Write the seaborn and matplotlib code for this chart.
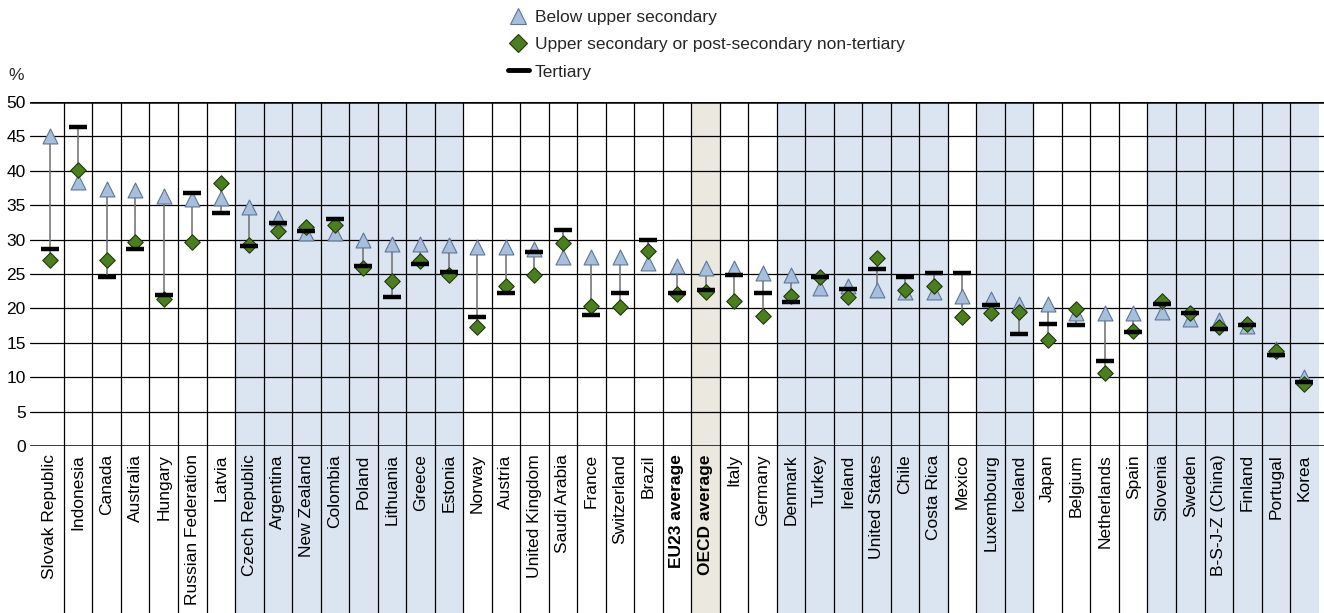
import matplotlib
matplotlib.use("Agg")
import matplotlib.pyplot as plt
from matplotlib.lines import Line2D
import pandas as pd
import seaborn as sns

# data (%)
countries = [
    "Slovak Republic", "Indonesia", "Canada", "Australia", "Hungary",
    "Russian Federation", "Latvia", "Czech Republic", "Argentina", "New Zealand",
    "Colombia", "Poland", "Lithuania", "Greece", "Estonia", "Norway", "Austria",
    "United Kingdom", "Saudi Arabia", "France", "Switzerland", "Brazil",
    "EU23 average", "OECD average", "Italy", "Germany", "Denmark", "Turkey",
    "Ireland", "United States", "Chile", "Costa Rica", "Mexico", "Luxembourg",
    "Iceland", "Japan", "Belgium", "Netherlands", "Spain", "Slovenia", "Sweden",
    "B-S-J-Z (China)", "Finland", "Portugal", "Korea",
]
below_upper = [
    45.0, 38.4, 37.3, 37.2, 36.3, 35.9, 36.0, 34.7, 33.1, 31.0,
    30.9, 29.9, 29.4, 29.4, 29.2, 28.9, 28.9, 28.7, 27.5, 27.4, 27.4, 26.6,
    26.2, 25.9, 25.8, 25.1, 24.8, 22.9, 23.2, 22.7, 22.4, 22.4, 21.8, 21.3,
    20.7, 20.6, 19.4, 19.4, 19.4, 19.5, 18.4, 18.3, 17.4, 14.1, 10.0,
]
upper_secondary = [
    27.0, 40.1, 27.0, 29.6, 21.3, 29.7, 38.2, 29.2, 31.2, 31.9,
    32.1, 25.8, 24.0, 26.9, 24.9, 17.3, 23.2, 24.9, 29.5, 20.3, 20.2, 28.4,
    22.1, 22.4, 21.1, 18.9, 21.8, 24.6, 21.7, 27.3, 22.7, 23.2, 18.7, 19.3,
    19.5, 15.4, 19.9, 10.6, 16.7, 21.1, 19.4, 17.3, 17.7, 13.8, 9.0,
]
tertiary = [
    28.7, 46.4, 24.6, 28.7, 22.0, 36.8, 33.8, 29.0, 32.4, 31.2,
    33.0, 26.1, 21.7, 26.5, 25.3, 18.8, 22.2, 28.2, 31.4, 19.1, 22.2, 29.9,
    22.3, 22.7, 24.9, 22.2, 21.0, 24.6, 22.8, 25.7, 24.5, 25.1, 25.1, 20.5,
    16.3, 17.8, 17.6, 12.4, 16.5, 20.7, 19.3, 17.0, 17.6, 13.2, 9.3,
]
blue_columns = [
    "Czech Republic", "Argentina", "New Zealand", "Colombia", "Poland",
    "Lithuania", "Greece", "Estonia", "Denmark", "Turkey", "Ireland",
    "United States", "Chile", "Costa Rica", "Luxembourg", "Iceland",
    "Slovenia", "Sweden", "B-S-J-Z (China)", "Finland", "Portugal", "Korea",
]
tan_columns = ["OECD average"]
bold_labels = ["EU23 average", "OECD average"]

df = pd.DataFrame({
    "country": countries,
    "pos": range(len(countries)),
    "below": below_upper,
    "upper": upper_secondary,
    "tertiary": tertiary,
})
df["lo"] = df[["below", "upper", "tertiary"]].min(axis=1)
df["hi"] = df[["below", "upper", "tertiary"]].max(axis=1)

TRI_FACE = "#a7bedd"
TRI_EDGE = "#5f7696"
DIA_FACE = "#4b7f1d"
DIA_EDGE = "#22380c"

sns.set_theme(style="white")
plt.rcParams["font.family"] = ["Liberation Sans", "DejaVu Sans"]

W, H = 1324, 613
fig = plt.figure(figsize=(W / 100, H / 100), dpi=100)
ax = fig.add_axes([30 / W, 1 - 446 / H, 1 - 30 / W, 344 / H])

n = len(countries)
ax.set_xlim(-0.69, n - 1 + 0.69)
ax.set_ylim(0, 50)
below_frac = -(1 - 446 / H) / (344 / H)

# column shading, runs down through the label area
for i, c in enumerate(countries):
    if c in blue_columns:
        ax.axvspan(i - 0.5, i + 0.5, ymin=below_frac, ymax=1, color="#dbe5f1",
                   lw=0, zorder=0, clip_on=False)
    elif c in tan_columns:
        ax.axvspan(i - 0.5, i + 0.5, ymin=below_frac, ymax=1, color="#ebe9df",
                   lw=0, zorder=0, clip_on=False)

# grid
for v in range(5, 50, 5):
    ax.axhline(v, color="black", lw=0.9, zorder=1)
ax.axhline(0, color="black", lw=1.8, zorder=2)
ax.axhline(50, color="black", lw=1.8, zorder=2)
for i in range(n - 1):
    ax.axvline(i + 0.5, ymin=below_frac, ymax=1, color="black", lw=0.9,
               zorder=1, clip_on=False)

# range connector
ax.vlines(df["pos"], df["lo"], df["hi"], color="#6e6e6e", lw=1.1, zorder=3)

sns.scatterplot(data=df, x="pos", y="below", marker="^", s=115,
                color=TRI_FACE, edgecolor=TRI_EDGE, linewidth=0.8,
                ax=ax, zorder=4, legend=False)
sns.scatterplot(data=df, x="pos", y="upper", marker="D", s=62,
                color=DIA_FACE, edgecolor=DIA_EDGE, linewidth=0.8,
                ax=ax, zorder=5, legend=False)
sns.scatterplot(data=df, x="pos", y="tertiary", marker="_", s=175,
                color="black", linewidth=3.2, ax=ax, zorder=6, legend=False)

for s in ax.spines.values():
    s.set_visible(False)
ax.set_xlabel("")
ax.set_ylabel("")
ax.set_xticks(range(n))
ax.set_xticklabels(countries, rotation=90, fontsize=12.5)
for lbl in ax.get_xticklabels():
    if lbl.get_text() in bold_labels:
        lbl.set_fontweight("bold")
ax.set_yticks(range(0, 51, 5))
ax.tick_params(axis="both", length=0, labelsize=12.5, colors="black")
ax.tick_params(axis="x", pad=6)
ax.tick_params(axis="y", pad=3)

fig.text(8 / W, 1 - 76 / H, "%", fontsize=12.5, va="center", ha="left")

handles = [
    Line2D([], [], ls="none", marker="^", markersize=11, markerfacecolor=TRI_FACE,
           markeredgecolor=TRI_EDGE, markeredgewidth=0.8),
    Line2D([], [], ls="none", marker="D", markersize=9, markerfacecolor=DIA_FACE,
           markeredgecolor=DIA_EDGE, markeredgewidth=0.8),
    Line2D([], [], color="black", lw=3.5),
]
labels = [
    "Below upper secondary",
    "Upper secondary or post-secondary non-tertiary",
    "Tertiary",
]
fig.legend(handles, labels, loc="upper left", bbox_to_anchor=(506 / W, 1 - 8 / H),
           frameon=False, fontsize=12.5, handlelength=1.2, handletextpad=0.35,
           labelspacing=0.7, borderpad=0.1, borderaxespad=0)

fig.savefig("out.png", dpi=100)
